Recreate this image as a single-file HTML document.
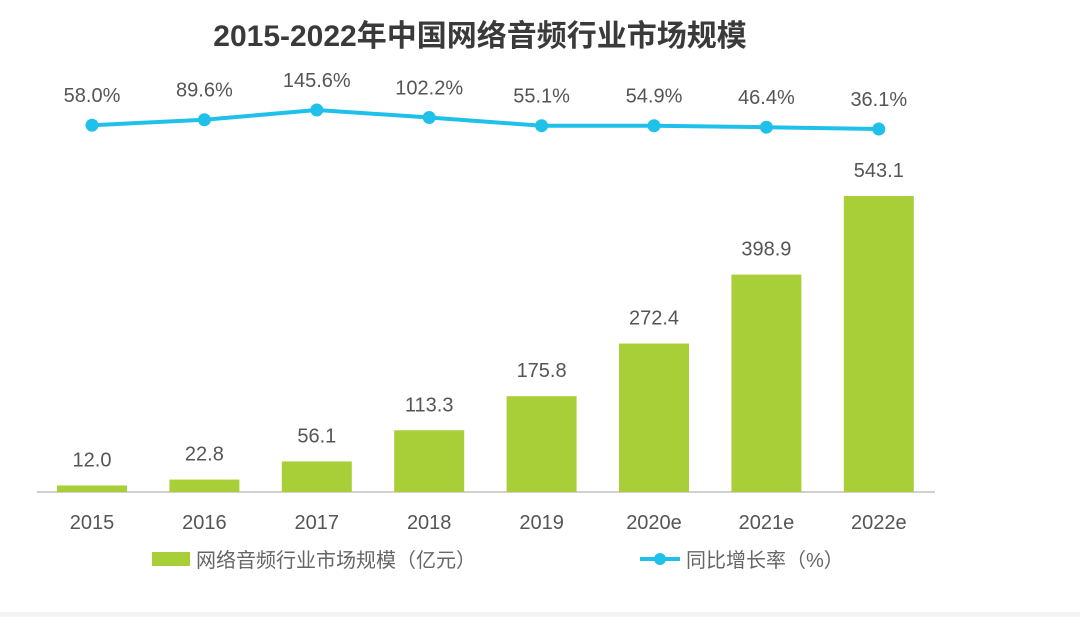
<!DOCTYPE html>
<html><head><meta charset="utf-8"><style>
body{margin:0;background:#fff;}
svg{display:block;font-family:"Liberation Sans","Noto Sans CJK SC",sans-serif;}
</style></head><body>
<svg id="c" width="1080" height="626" viewBox="0 0 1080 626">
<text x="480" y="46" text-anchor="middle" font-size="30" font-weight="bold" fill="#3a3a3a">2015-2022年中国网络音频行业市场规模</text>
<line x1="37" y1="492" x2="935" y2="492" stroke="#d0d0d0" stroke-width="2"/>
<g id="bars"></g><g id="line"></g><g id="labels"></g>
<rect x="152" y="552" width="38" height="14" fill="#a8cf38"/>
<text x="196" y="567" font-size="20" fill="#666">网络音频行业市场规模（亿元）</text>
<line x1="640" y1="559" x2="680" y2="559" stroke="#1fc0ea" stroke-width="4"/>
<circle cx="660" cy="559" r="6" fill="#1fc0ea"/>
<text x="686" y="567" font-size="20" fill="#666">同比增长率（%）</text>
<rect x="0" y="612" width="1080" height="5" fill="#f4f4f4"/>
</svg>
<script>
const categories=["2015","2016","2017","2018","2019","2020e","2021e","2022e"];
const marketSize=[12.0,22.8,56.1,113.3,175.8,272.4,398.9,543.1];
const growthRate=[58.0,89.6,145.6,102.2,55.1,54.9,46.4,36.1];
const NS="http://www.w3.org/2000/svg";
function xc(i){return 92+i*112.4;}
function yb(v){return 492-v*0.545;}
function yl(v){return 129-(v-36.1)*0.1735;}
function mk(t,a,p){const e=document.createElementNS(NS,t);for(const k in a)e.setAttribute(k,a[k]);p.appendChild(e);return e;}
const bars=document.getElementById('bars'),line=document.getElementById('line'),labels=document.getElementById('labels');
categories.forEach((c,i)=>{
 const r=mk('rect',{x:xc(i)-35,y:yb(marketSize[i]),width:70,height:492-yb(marketSize[i]),fill:'#a8cf38'},bars);
 
 
 const t=mk('text',{x:xc(i),y:yb(marketSize[i])-19,'text-anchor':'middle','font-size':20,fill:'#555'},labels);
 t.textContent=marketSize[i].toFixed(1);
 
 
 const xl=mk('text',{x:xc(i),y:529,'text-anchor':'middle','font-size':20,fill:'#555'},labels);
 xl.textContent=c;
 
 
});
const pl=mk('polyline',{points:growthRate.map((v,i)=>xc(i)+','+yl(v)).join(' '),fill:'none',stroke:'#1fc0ea','stroke-width':4},line);


growthRate.forEach((v,i)=>{
 const p=mk('circle',{cx:xc(i),cy:yl(v),r:6.5,fill:'#1fc0ea'},line);
 
 
 const t=mk('text',{x:xc(i),y:yl(v)-23,'text-anchor':'middle','font-size':20,fill:'#555'},labels);
 t.textContent=v.toFixed(1)+'%';
 
 
});
</script>
</body></html>
